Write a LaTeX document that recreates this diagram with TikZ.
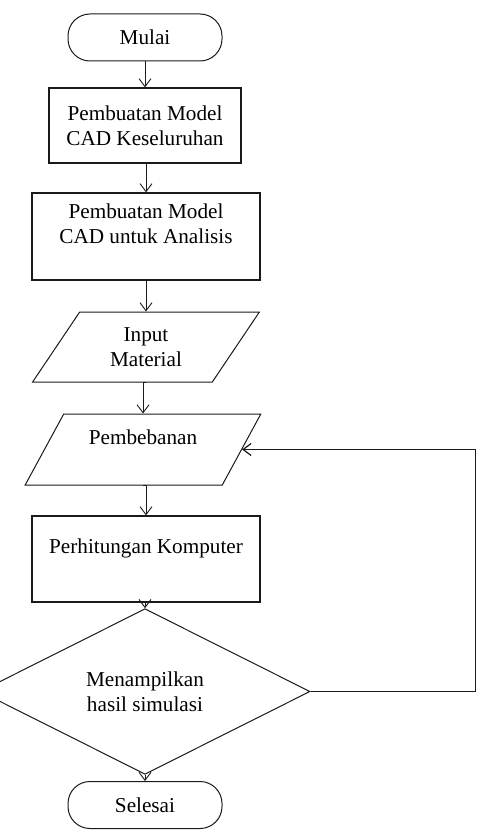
\documentclass[tikz,border=0pt]{standalone}
\usepackage{fontspec}
\setmainfont{Liberation Serif}
\usetikzlibrary{arrows.meta,shapes.geometric}
\definecolor{flink}{HTML}{1A1A1A}
\tikzset{
  fbox/.style={draw=flink, line width=1.3pt, align=center, inner sep=2pt},
  term/.style={fbox, line width=1pt, rounded corners=22pt, minimum width=154pt, minimum height=47pt},
  proc/.style={fbox, minimum width=228pt},
  io/.style={fbox, line width=1pt, trapezium, trapezium left angle=58, trapezium right angle=122, trapezium stretches=true},
  ask/.style={fbox, line width=1pt, diamond, minimum width=330pt, minimum height=117pt},
  arr/.style={-{Straight Barb[length=8pt, width=12pt]}, line width=0.9pt, color=flink},
}
\begin{document}
\begin{tikzpicture}[x=1pt, y=-1pt, font=\fontsize{21.2pt}{25pt}\selectfont]
  \clip (0,0) rectangle (485,837);
  \useasboundingbox (0,0) rectangle (485,837);
  \node[term] (mulai) at (145,37.5) {Mulai};
  \node[proc, minimum width=192pt, minimum height=75pt] (cad1) at (145,125.5) {Pembuatan Model\\CAD Keseluruhan};
  \node[proc, minimum height=87pt] (cad2) at (146,236.5) {Pembuatan Model\\CAD untuk Analisis\\ };
  \node[io, minimum width=227pt, minimum height=70pt] (input) at (146,347) {Input\\Material};
  \node[io, minimum width=236pt, minimum height=71pt] (beban) at (143,449.5) {Pembebanan\\ };
  \node[proc, minimum height=86pt] (hitung) at (146,559) {Perhitungan Komputer\\ };
  \node[ask] (hasil) at (145,691.5) {Menampilkan\\hasil simulasi};
  \node[term] (selesai) at (145,805) {Selesai};
  \foreach \a/\b in {mulai/cad1, cad1/cad2, cad2/input, input/beban, beban/hitung, hitung/hasil, hasil/selesai}
    \draw[arr] (\a.south) -- (\a.south -| \b.north) -- (\b.north);
  \draw[arr, line width=1.2pt] (hasil.east) -- ++(165,0) |- (beban.east);
\end{tikzpicture}
\end{document}
